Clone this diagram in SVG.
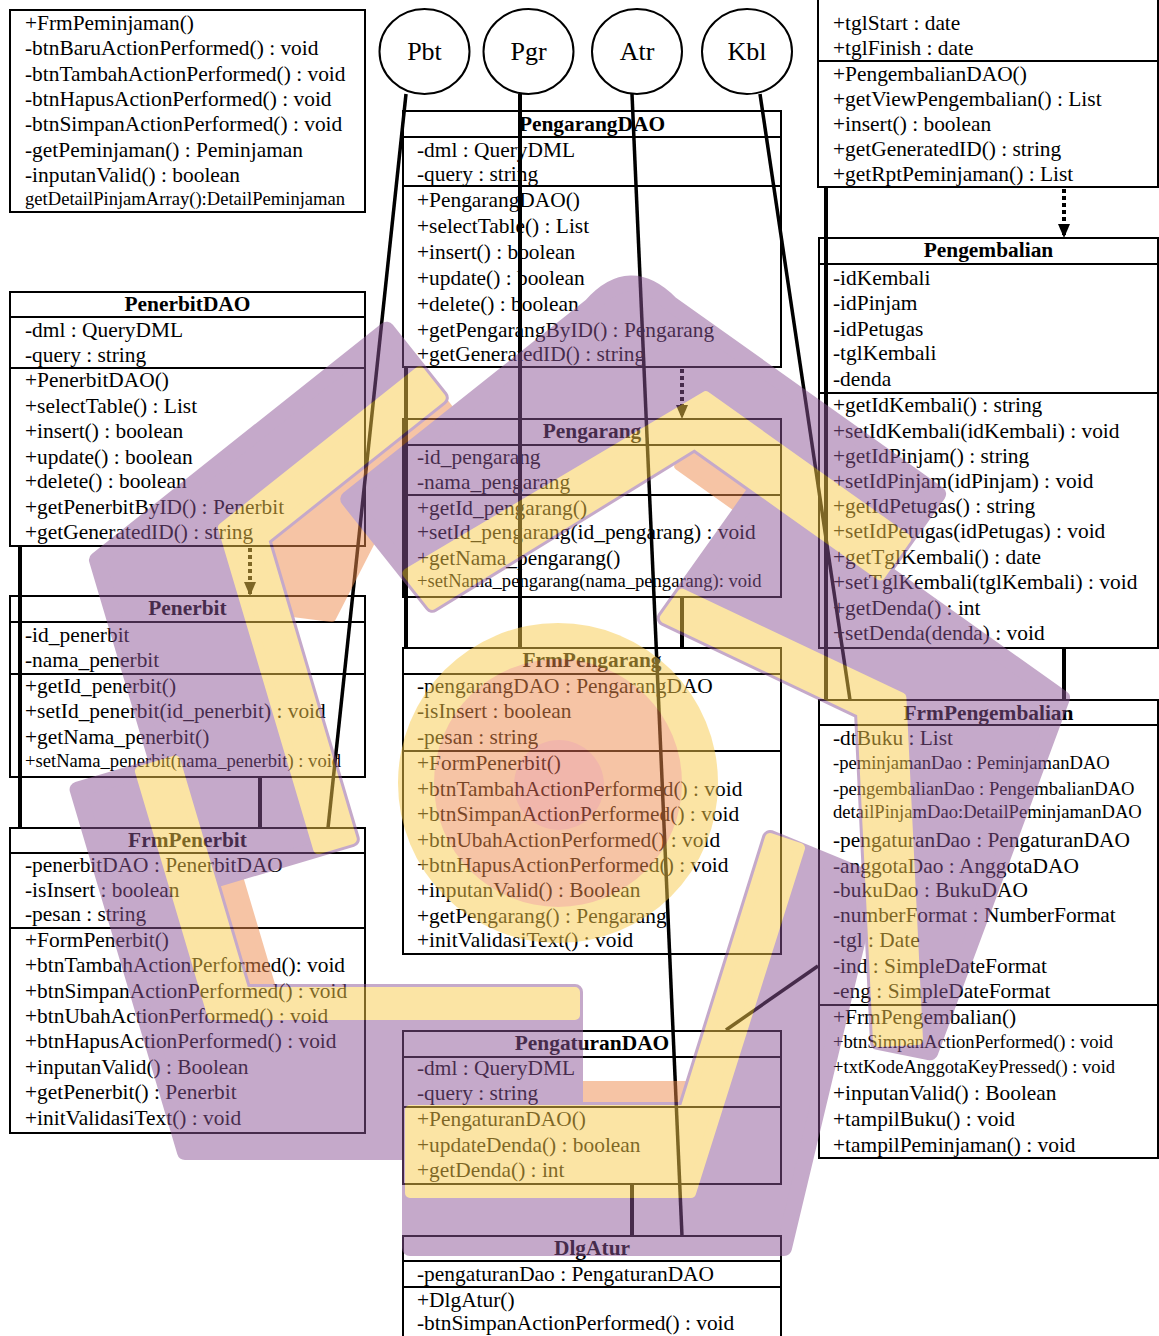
<svg xmlns="http://www.w3.org/2000/svg" width="1159" height="1336" viewBox="0 0 1159 1336">
<defs>
<style>
.bx{fill:none;stroke:#000;stroke-width:2}
.t{font-family:"Liberation Serif","Times New Roman",serif;font-size:21.4px;fill:#000}
.s{font-size:18.6px}
.h{font-weight:bold;text-anchor:middle}
.cl{font-family:"Liberation Serif","Times New Roman",serif;font-size:26px;text-anchor:middle;fill:#000}
.ln{stroke:#000;stroke-width:4;fill:none}
.sl{stroke:#000;stroke-width:3.5;fill:none}
.dt{stroke:#000;stroke-width:4;fill:none;stroke-dasharray:4 3}
.pu{fill:#8C5696;stroke:#8C5696;stroke-width:16;stroke-linejoin:round}
.ye{fill:#F9CB4B;stroke:#F9CB4B;stroke-width:10;stroke-linejoin:round}
.or{fill:#EF8B4D;stroke:#EF8B4D;stroke-width:8;stroke-linejoin:round}
</style>
<marker id="ah" viewBox="0 0 14 12" refX="14" refY="6" markerWidth="14" markerHeight="12" markerUnits="userSpaceOnUse" orient="auto">
<path d="M0,0 L14,6 L0,12 Z" fill="#000"/>
</marker>
</defs>
<rect x="0" y="0" width="1159" height="1336" fill="#fff"/>

<g id="FrmPeminjaman">
<rect class="bx" x="10" y="10" width="355" height="202"/>
<g class="t">
<text x="25" y="30">+FrmPeminjaman()</text>
<text x="25" y="55">-btnBaruActionPerformed() : void</text>
<text x="25" y="81">-btnTambahActionPerformed() : void</text>
<text x="25" y="106">-btnHapusActionPerformed() : void</text>
<text x="25" y="131">-btnSimpanActionPerformed() : void</text>
<text x="25" y="157">-getPeminjaman() : Peminjaman</text>
<text x="25" y="182">-inputanValid() : boolean</text>
<text class="s" x="25" y="205">getDetailPinjamArray():DetailPeminjaman</text>
</g>
</g>

<g id="PengembalianDAO">
<path class="bx" d="M818,0 V187 H1158 V0 M818,61 H1158"/>
<g class="t">
<text x="833" y="30">+tglStart : date</text>
<text x="833" y="55">+tglFinish : date</text>
<text x="833" y="81">+PengembalianDAO()</text>
<text x="833" y="106">+getViewPengembalian() : List</text>
<text x="833" y="131">+insert() : boolean</text>
<text x="833" y="156">+getGeneratedID() : string</text>
<text x="833" y="181">+getRptPeminjaman() : List</text>
</g>
</g>

<g id="Pbt"><ellipse class="bx" cx="424.5" cy="51.5" rx="45" ry="42.5"/><text class="cl" x="424.5" y="60">Pbt</text></g>
<g id="Pgr"><ellipse class="bx" cx="528.5" cy="51.5" rx="45" ry="42.5"/><text class="cl" x="528.5" y="60">Pgr</text></g>
<g id="Atr"><ellipse class="bx" cx="637" cy="51.5" rx="45" ry="42.5"/><text class="cl" x="637" y="60">Atr</text></g>
<g id="Kbl"><ellipse class="bx" cx="747" cy="51.5" rx="45" ry="42.5"/><text class="cl" x="747" y="60">Kbl</text></g>

<g id="PengarangDAO">
<rect class="bx" x="403" y="111" width="378" height="256"/>
<path class="bx" d="M403,137 H781 M403,186 H781"/>
<g class="t">
<text class="h" x="592" y="131">PengarangDAO</text>
<text x="417" y="157">-dml : QueryDML</text>
<text x="417" y="181">-query : string</text>
<text x="417" y="207">+PengarangDAO()</text>
<text x="417" y="233">+selectTable() : List</text>
<text x="417" y="259">+insert() : boolean</text>
<text x="417" y="285">+update() : boolean</text>
<text x="417" y="311">+delete() : boolean</text>
<text x="417" y="337">+getPengarangByID() : Pengarang</text>
<text x="417" y="361">+getGeneratedID() : string</text>
</g>
</g>

<g id="PenerbitDAO">
<rect class="bx" x="10" y="292" width="355" height="254"/>
<path class="bx" d="M10,317 H365 M10,368 H365"/>
<g class="t">
<text class="h" x="187.5" y="311">PenerbitDAO</text>
<text x="25" y="337">-dml : QueryDML</text>
<text x="25" y="362">-query : string</text>
<text x="25" y="387">+PenerbitDAO()</text>
<text x="25" y="413">+selectTable() : List</text>
<text x="25" y="438">+insert() : boolean</text>
<text x="25" y="464">+update() : boolean</text>
<text x="25" y="488">+delete() : boolean</text>
<text x="25" y="514">+getPenerbitByID() : Penerbit</text>
<text x="25" y="539">+getGeneratedID() : string</text>
</g>
</g>

<g id="Penerbit">
<rect class="bx" x="10" y="596" width="355" height="181"/>
<path class="bx" d="M10,622 H365 M10,674 H365"/>
<g class="t">
<text class="h" x="187.5" y="615">Penerbit</text>
<text x="25" y="642">-id_penerbit</text>
<text x="25" y="667">-nama_penerbit</text>
<text x="25" y="693">+getId_penerbit()</text>
<text x="25" y="718">+setId_penerbit(id_penerbit) : void</text>
<text x="25" y="744">+getNama_penerbit()</text>
<text class="s" x="25" y="767">+setNama_penerbit(nama_penerbit) : void</text>
</g>
</g>

<g id="FrmPenerbit">
<rect class="bx" x="10" y="828" width="355" height="305"/>
<path class="bx" d="M10,853 H365 M10,928 H365"/>
<g class="t">
<text class="h" x="187.5" y="847">FrmPenerbit</text>
<text x="25" y="872">-penerbitDAO : PenerbitDAO</text>
<text x="25" y="897">-isInsert : boolean</text>
<text x="25" y="921">-pesan : string</text>
<text x="25" y="947">+FormPenerbit()</text>
<text x="25" y="972">+btnTambahActionPerformed(): void</text>
<text x="25" y="998">+btnSimpanActionPerformed() : void</text>
<text x="25" y="1023">+btnUbahActionPerformed() : void</text>
<text x="25" y="1048">+btnHapusActionPerformed() : void</text>
<text x="25" y="1074">+inputanValid() : Boolean</text>
<text x="25" y="1099">+getPenerbit() : Penerbit</text>
<text x="25" y="1125">+initValidasiText() : void</text>
</g>
</g>

<g id="Pengarang">
<rect class="bx" x="403" y="419" width="378" height="178"/>
<path class="bx" d="M403,445 H781 M403,495 H781"/>
<g class="t">
<text class="h" x="592" y="438">Pengarang</text>
<text x="417" y="464">-id_pengarang</text>
<text x="417" y="489">-nama_pengarang</text>
<text x="417" y="515">+getId_pengarang()</text>
<text x="417" y="539">+setId_pengarang(id_pengarang) : void</text>
<text x="417" y="565">+getNama_pengarang()</text>
<text class="s" x="417" y="587">+setNama_pengarang(nama_pengarang): void</text>
</g>
</g>

<g id="FrmPengarang">
<rect class="bx" x="403" y="648" width="378" height="306"/>
<path class="bx" d="M403,674 H781 M403,751 H781"/>
<g class="t">
<text class="h" x="592" y="667">FrmPengarang</text>
<text x="417" y="693">-pengarangDAO : PengarangDAO</text>
<text x="417" y="718">-isInsert : boolean</text>
<text x="417" y="744">-pesan : string</text>
<text x="417" y="770">+FormPenerbit()</text>
<text x="417" y="796">+btnTambahActionPerformed() : void</text>
<text x="417" y="821">+btnSimpanActionPerformed() : void</text>
<text x="417" y="847">+btnUbahActionPerformed() : void</text>
<text x="417" y="872">+btnHapusActionPerformed() : void</text>
<text x="417" y="897">+inputanValid() : Boolean</text>
<text x="417" y="923">+getPengarang() : Pengarang</text>
<text x="417" y="947">+initValidasiText() : void</text>
</g>
</g>

<g id="PengaturanDAO">
<rect class="bx" x="403" y="1031" width="378" height="153"/>
<path class="bx" d="M403,1057 H781 M403,1107 H781"/>
<g class="t">
<text class="h" x="592" y="1050">PengaturanDAO</text>
<text x="417" y="1075">-dml : QueryDML</text>
<text x="417" y="1100">-query : string</text>
<text x="417" y="1126">+PengaturanDAO()</text>
<text x="417" y="1152">+updateDenda() : boolean</text>
<text x="417" y="1177">+getDenda() : int</text>
</g>
</g>

<g id="DlgAtur">
<path class="bx" d="M403,1340 V1236 H781 V1340 M403,1261 H781 M403,1287 H781"/>
<g class="t">
<text class="h" x="592" y="1255">DlgAtur</text>
<text x="417" y="1281">-pengaturanDao : PengaturanDAO</text>
<text x="417" y="1307">+DlgAtur()</text>
<text x="417" y="1330">-btnSimpanActionPerformed() : void</text>
</g>
</g>

<g id="Pengembalian">
<rect class="bx" x="819" y="238" width="339" height="410"/>
<path class="bx" d="M819,264 H1158 M819,393 H1158"/>
<g class="t">
<text class="h" x="988.5" y="257">Pengembalian</text>
<text x="833" y="285">-idKembali</text>
<text x="833" y="310">-idPinjam</text>
<text x="833" y="336">-idPetugas</text>
<text x="833" y="360">-tglKembali</text>
<text x="833" y="386">-denda</text>
<text x="833" y="412">+getIdKembali() : string</text>
<text x="833" y="438">+setIdKembali(idKembali) : void</text>
<text x="833" y="463">+getIdPinjam() : string</text>
<text x="833" y="488">+setIdPinjam(idPinjam) : void</text>
<text x="833" y="513">+getIdPetugas() : string</text>
<text x="833" y="538">+setIdPetugas(idPetugas) : void</text>
<text x="833" y="564">+getTglKembali() : date</text>
<text x="833" y="589">+setTglKembali(tglKembali) : void</text>
<text x="833" y="615">+getDenda() : int</text>
<text x="833" y="640">+setDenda(denda) : void</text>
</g>
</g>

<g id="FrmPengembalian">
<rect class="bx" x="819" y="700" width="339" height="458"/>
<path class="bx" d="M819,725 H1158 M819,1005 H1158"/>
<g class="t">
<text class="h" x="988.5" y="720">FrmPengembalian</text>
<text x="833" y="745">-dtBuku : List</text>
<text class="s" x="833" y="769">-peminjamanDao : PeminjamanDAO</text>
<text class="s" x="833" y="795">-pengembalianDao : PengembalianDAO</text>
<text class="s" x="833" y="818">detailPinjamDao:DetailPeminjamanDAO</text>
<text x="833" y="847">-pengaturanDao : PengaturanDAO</text>
<text x="833" y="873">-anggotaDao : AnggotaDAO</text>
<text x="833" y="897">-bukuDao : BukuDAO</text>
<text x="833" y="922">-numberFormat : NumberFormat</text>
<text x="833" y="947">-tgl : Date</text>
<text x="833" y="973">-ind : SimpleDateFormat</text>
<text x="833" y="998">-eng : SimpleDateFormat</text>
<text x="833" y="1024">+FrmPengembalian()</text>
<text class="s" x="833" y="1048">+btnSimpanActionPerformed() : void</text>
<text class="s" x="833" y="1073">+txtKodeAnggotaKeyPressed() : void</text>
<text x="833" y="1100">+inputanValid() : Boolean</text>
<text x="833" y="1126">+tampilBuku() : void</text>
<text x="833" y="1152">+tampilPeminjaman() : void</text>
</g>
</g>

<g id="connectors">
<line class="sl" x1="406" y1="94" x2="328" y2="828"/>
<line class="ln" x1="520" y1="94" x2="520" y2="648"/>
<line class="sl" x1="632" y1="94" x2="682" y2="1236"/>
<line class="sl" x1="760" y1="94" x2="850" y2="700"/>
<line class="ln" x1="20" y1="546" x2="20" y2="828"/>
<line class="ln" x1="260" y1="777" x2="260" y2="828"/>
<line class="ln" x1="406" y1="367" x2="406" y2="648"/>
<line class="ln" x1="682" y1="597" x2="682" y2="648"/>
<line class="ln" x1="826" y1="187" x2="826" y2="700"/>
<line class="ln" x1="1064" y1="648" x2="1064" y2="700"/>
<line class="sl" x1="818" y1="966" x2="726" y2="1030"/>
<line class="ln" x1="632" y1="1184" x2="632" y2="1236"/>
<line class="dt" x1="1064" y1="189" x2="1064" y2="238" marker-end="url(#ah)"/>
<line class="dt" x1="682" y1="369" x2="682" y2="419" marker-end="url(#ah)"/>
<line class="dt" x1="250" y1="548" x2="250" y2="596" marker-end="url(#ah)"/>
</g>

<!-- translucent five-part logo laid over the page -->
<g id="logo" opacity="0.5">
<g class="or">
<polygon points="263,539.3 440.8,397.8 458,420 372,540 332,618 285,612"/>
<polygon points="694.5,443.5 880.2,575.5 864,598.3 678.3,466.3"/>
<polygon points="410,1085 685,1085 685,1110 410,1110"/>
<polygon points="244,992 175.4,760.6 202.2,752.6 270.8,984"/>
</g>
<g class="pu">
<polygon points="97,560 386.6,329.7 440.8,397.8 263,539.3 351.8,839.1 193.6,886"/>
<path d="M348.3,499.1 L591,306 Q630,262 671,304 L938.1,494 L880.2,575.5 L694.5,443.5 L432.3,604.8 Z"/>
<polygon points="1062,698 930.2,1052.3 878,1042 862,712 664.8,618.2 760.4,483.7"/>
<polygon points="784,1248 410,1248 410,1110 685,1110 770,838 872,880"/>
<polygon points="185,1152 77.6,789.6 175.4,760.6 244,992 575,992 575,1152"/>
</g>
<g class="ye">
<polygon points="419.6,371.2 440.8,397.8 263,539.3 351.8,839.1 318.2,849.1 222.9,527.6"/>
<polygon points="906.2,538.8 880.2,575.5 694.5,443.5 432.3,604.8 407.4,573.4 705.6,396.2"/>
<polygon points="682.2,593.7 664.8,618.2 862,712 878,1042 918,1040 901.4,697.6"/>
<polygon points="410,1193 410,1110 685,1110 770,838 800,848 691,1193"/>
<polygon points="139.9,771.1 175.4,760.6 244,992 575,992 575,1015 212.2,1015"/>
</g>
<circle cx="558" cy="783" r="160" fill="#F9CB4B"/>
<circle cx="558" cy="783" r="124" fill="#EF8B4D"/>
<circle cx="559" cy="785" r="45" fill="#E5705A"/>
</g>
</svg>
